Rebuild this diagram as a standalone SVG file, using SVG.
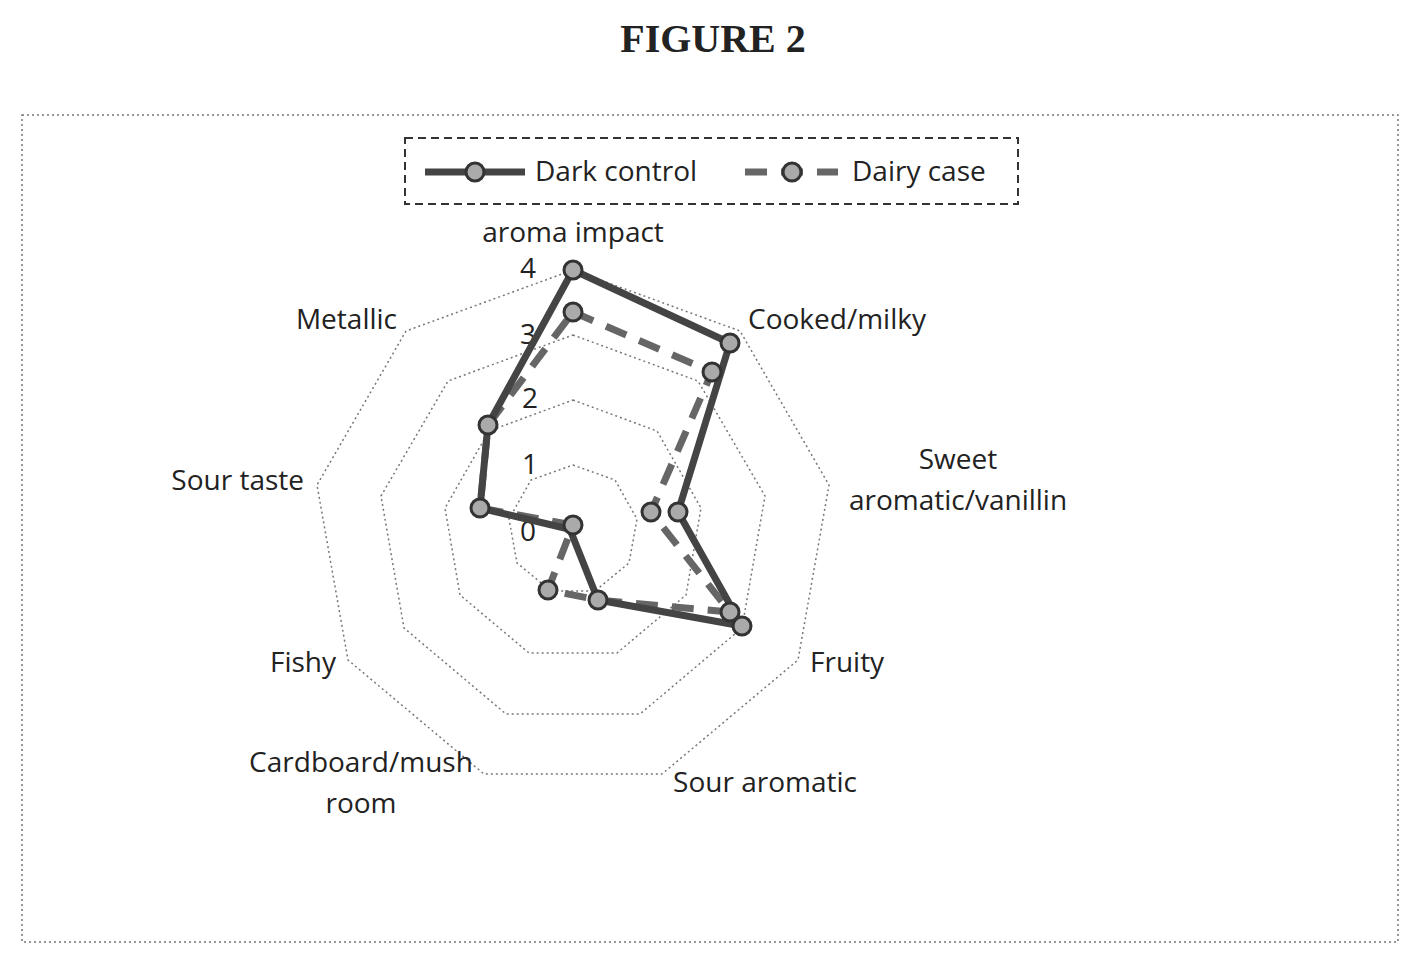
<svg xmlns="http://www.w3.org/2000/svg" width="1419" height="963" viewBox="0 0 1419 963">
<style>
text{font-family:"Open Sans","Liberation Sans",sans-serif;font-size:28px;fill:#222}
.grid{fill:none;stroke:#777;stroke-width:1.5;stroke-dasharray:2 3}
.dc{fill:none;stroke:#444;stroke-width:7;stroke-linejoin:round}
.dy{fill:none;stroke:#666;stroke-width:7;stroke-dasharray:22 14}
.m{fill:#aaa;stroke:#333;stroke-width:3}
</style>
<rect width="1419" height="963" fill="#fff"/>
<text x="713" y="52" text-anchor="middle" style="font-family:'Liberation Serif',serif;font-weight:bold;font-size:40px">FIGURE 2</text>
<rect x="22" y="115" width="1376" height="827" fill="none" stroke="#777" stroke-width="1.5" stroke-dasharray="2 3"/>
<g id="legend">
<rect x="405" y="138" width="613" height="66" fill="none" stroke="#333" stroke-width="2" stroke-dasharray="8 5"/>
<line x1="425" y1="172" x2="525" y2="172" class="dc"/><circle cx="475" cy="172" r="9" class="m"/>
<text x="535" y="181">Dark control</text>
<line x1="745" y1="172" x2="838" y2="172" class="dy"/><circle cx="792" cy="172" r="9" class="m"/>
<text x="852" y="181">Dairy case</text>
</g>
<g id="grid">
<polygon class="grid" points="573,465 615,480 637,519 629,563 595,591 551,591 517,563 509,519 531,480"/>
<polygon class="grid" points="573,400 657,431 701,508 686,595 617,653 529,653 460,595 445,508 489,431"/>
<polygon class="grid" points="573,335 698,381 765,496 742,628 640,714 506,714 404,628 381,496 448,381"/>
<polygon class="grid" points="573,270 740,331 829,485 798,660 662,774 484,774 348,660 317,485 406,331"/>
<text x="528" y="541" text-anchor="middle" font-size="22">0</text>
<text x="530" y="474" text-anchor="middle" font-size="22">1</text>
<text x="530" y="408" text-anchor="middle" font-size="22">2</text>
<text x="528" y="344" text-anchor="middle" font-size="22">3</text>
<text x="528" y="278" text-anchor="middle" font-size="22">4</text>
</g>
<g id="labels">
<text x="573" y="242" text-anchor="middle">aroma impact</text>
<text x="748" y="329">Cooked/milky</text>
<text x="958" y="469" text-anchor="middle">Sweet</text>
<text x="958" y="510" text-anchor="middle">aromatic/vanillin</text>
<text x="810" y="672">Fruity</text>
<text x="765" y="792" text-anchor="middle">Sour aromatic</text>
<text x="361" y="772" text-anchor="middle">Cardboard/mush</text>
<text x="361" y="813" text-anchor="middle">room</text>
<text x="336" y="672" text-anchor="end">Fishy</text>
<text x="304" y="490" text-anchor="end">Sour taste</text>
<text x="397" y="329" text-anchor="end">Metallic</text>
</g>
<g id="connectors">
<polygon class="dy" points="573,312 712,372 651,512 730,612 598,600 548,590 573,525 480,508 488,425"/>
<polygon class="dc" points="573,270 730,343 678,512 742,626 598,600 569,527 573,530 480,508 488,425"/>
</g>
<g id="markers">
<circle cx="573" cy="312" r="9" class="m"/><circle cx="712" cy="372" r="9" class="m"/><circle cx="651" cy="512" r="9" class="m"/><circle cx="730" cy="612" r="9" class="m"/><circle cx="548" cy="590" r="9" class="m"/>
<circle cx="573" cy="270" r="9" class="m"/><circle cx="730" cy="343" r="9" class="m"/><circle cx="678" cy="512" r="9" class="m"/><circle cx="742" cy="626" r="9" class="m"/><circle cx="598" cy="600" r="9" class="m"/><circle cx="573" cy="525" r="9" class="m"/><circle cx="480" cy="508" r="9" class="m"/><circle cx="488" cy="425" r="9" class="m"/>
</g>
</svg>
